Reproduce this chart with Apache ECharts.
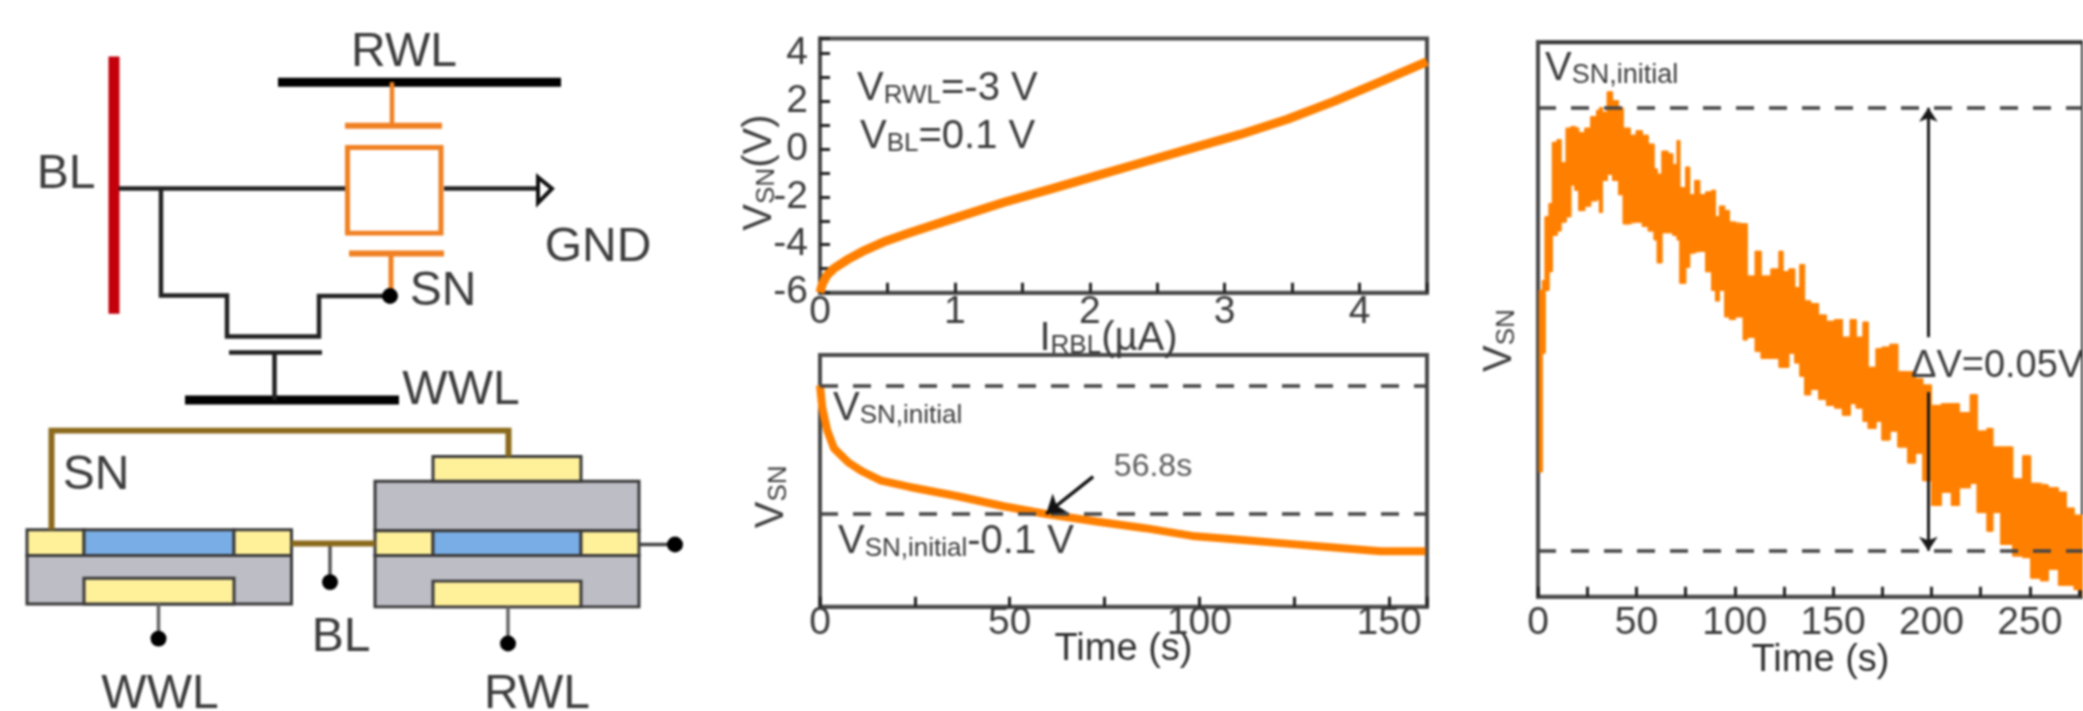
<!DOCTYPE html>
<html>
<head>
<meta charset="utf-8">
<style>
html,body{margin:0;padding:0;background:#fff;overflow:hidden}
#chart{width:2083px;height:711px;filter:blur(1px)}
</style>
<script src="https://cdn.jsdelivr.net/npm/echarts@6/dist/echarts.min.js"></script>
</head>
<body>
<div id="chart"></div>
<script>
// --- panel (b, top): V_SN against I_RBL
const currentUA = [0,0.017,0.052,0.105,0.21,0.315,0.49,0.665,1.015,1.365,1.715,2.065,2.415,2.765,3.115,3.465,3.815,4.165,4.5];
const vsnVolts  = [-6,-5.64,-5.27,-4.98,-4.6,-4.28,-3.84,-3.5,-2.86,-2.23,-1.67,-1.1,-0.53,0.04,0.6,1.23,1.99,2.82,3.64];

// --- panel (b, bottom): retention over 160 s (volts relative to V_SN,initial)
const retentionTime = [0,0.6,1.9,3.7,7.5,11.2,16.1,23.6,36,48.4,59.6,73.3,85.7,98.1,110.6,123,135.4,147.8,159.6];
const retentionV = [0,-0.0175,-0.035,-0.049,-0.06,-0.067,-0.074,-0.079,-0.086,-0.094,-0.1,-0.106,-0.111,-0.117,-0.12,-0.123,-0.126,-0.129,-0.129];
const retentionInitial = 0;
const retentionDrop = -0.1;
const retentionArrow = [[72,-0.0709],[59.6,-0.1]];

// --- panel (c): noisy decay over 280 s, envelope in mV above the axis floor
const decayTime = [0.6,2.2,3.6,5.6,7.3,9.7,11.7,14.3,16.7,18.7,20.7,23.8,26.8,29.8,31.2,32.8,35.2,37.9,40.9,43.3,46.9,49.9,53,56,59,60.6,63,66.1,68.5,70.7,72.1,75.1,77.1,79.6,82.2,85.2,88.2,90.2,92.2,94.9,97.3,100.3,104.3,106.3,110.4,113.4,118.4,122.5,124.5,127.5,130.5,133.1,135.5,138.6,142.6,146.6,150.7,154.7,158.7,161.7,165.2,167.8,171.8,174.8,178.9,182.9,187.9,191.9,195.6,200,205,210.1,214.1,219.7,223.2,228.2,231.2,235.2,241.3,246.3,250.4,255.4,259.4,264.5,268.5,272.5,277];
const decayUpper = [34.6,35.7,42.9,44.4,51.3,51.6,49,52.9,53.1,52.9,52.4,52.9,54.2,54.9,55.2,54.7,57,56,55.2,52.9,52.1,52.6,52.1,51.1,48.3,47.7,50.3,50,48.8,51.5,46.2,48.5,45.4,47,45.4,45.7,45.9,42.9,44.1,43.6,42.3,42.1,42.1,36.2,39,36.2,37,39,36.7,37,34.9,37.5,33.4,33.1,31.8,31.1,31.3,29.3,31.3,29.3,31,25.9,28,28.2,28.5,25.4,25.4,24.6,23.9,21.6,21.8,21.8,20.8,22.8,18.7,19,16.9,16.9,13.3,15.9,12.8,12.6,12.3,11.8,10,9.2,8.5];
const decayLower = [14.1,27.5,34.6,36.7,40.8,41.3,42.3,42.9,46.5,45.9,43.6,44.1,44.7,44.9,43.4,47,47.7,47,45.4,42.1,42.3,42.3,41.8,41.3,40.3,37.7,41.1,41.1,40.8,40.3,35.4,37.2,38.8,39,39,36.7,34.6,33.4,34.6,31.6,31.3,31.6,29,29.3,27.7,26.9,26.9,25.9,25.9,27.5,26.4,24.9,22.8,23.4,22.3,21.6,21.3,20.5,21.8,21.3,19.8,19,19.8,17.7,18.7,16.9,15.1,16.2,13.1,10.3,11.8,10.3,12.3,12.8,9.5,7.4,9.5,5.9,4.6,4.4,2.1,1.8,3.1,1.3,1.3,0.8,0];
const decayInitial = 55.2;
const decayFinal = 5.2;
const deltaArrowX = 198.4;
const deltaArrowTop = [29.3,55.2];
const deltaArrowBottom = [23.1,5.2];

// --- labels
const FONT = '"Liberation Sans", Arial, sans-serif';
const INK = '#3c3c3c';
const ORANGE = '#ff8000';
const schematicLabels = [
  ['RWL',404,53],['BL',66,177],['GND',598,250],['SN',443,295],['WWL',461,395],
  ['SN',96,481],['BL',341,644],['WWL',160,702],['RWL',537,702]
];

// --- schematic drawing (not data): [x1,y1,x2,y2,width,colour]
const WIRE = '#222222', GATE = '#f08022', BRASS = '#8b6a1c';
const schematicLines = [
  [114,57,114,317,11,'#c4000c'],[278,83,561,83,9,'#000'],[185,404,399,404,9,'#000'],
  [119,190.5,347,190.5,4.5,WIRE],[444,190.5,539,190.5,4.5,WIRE],
  [229,356,322,356,4.5,WIRE],[274.5,356,274.5,404,4.5,WIRE],
  [392,83,392,127,4.5,GATE],[345,127,442,127,6,GATE],[349,256,444,256,6,GATE],[391,256,391,299,5,GATE],
  [330,549,330,588,3.5,'#555'],[158.5,610,158.5,645,3.5,'#666'],[508,613,508,650,3.5,'#666'],[639,550,675,550,3.5,'#444'],
  [291.5,549,375,549,6,BRASS]
];
const schematicPaths = [
  [[[161,190.5],[161,298.5],[227,298.5],[227,340],[319,340],[319,299],[390,299]],4.5,WIRE],
  [[[51.5,535],[51.5,435],[508.5,435],[508.5,461]],6,BRASS]
];
// [x,y,w,h,fill]
const YEL = '#fff09a', BLUE = '#78ade5', GREY = '#bcbdc5';
const schematicRects = [
  [27,561,264.5,49,GREY],[84,584,150,26,YEL],[27,535,57,26,YEL],[84,535,150,26,BLUE],[234,535,57.5,26,YEL],
  [375,486,264,50,GREY],[433,461,148,25,YEL],[375,561,264,52,GREY],[433,587,148,26,YEL],
  [375,536,58,25,YEL],[433,536,148,25,BLUE],[581,536,58,25,YEL]
];
const schematicDots = [[390,299],[158.5,645],[508,650],[330,588],[675,550]];

const schematic = [];
schematicRects.forEach(r => schematic.push({type:'rect',shape:{x:r[0],y:r[1],width:r[2],height:r[3]},style:{fill:r[4],stroke:'#3a3a3a',lineWidth:3}}));
schematicLines.forEach(l => schematic.push({type:'line',shape:{x1:l[0],y1:l[1],x2:l[2],y2:l[3]},style:{stroke:l[5],lineWidth:l[4]}}));
schematicPaths.forEach(p => schematic.push({type:'polyline',shape:{points:p[0]},style:{stroke:p[2],lineWidth:p[1],fill:null}}));
schematic.push({type:'rect',shape:{x:347.5,y:149,width:93.5,height:86.5},style:{fill:'#fff',stroke:GATE,lineWidth:5}});
schematic.push({type:'polygon',shape:{points:[[538,179],[552,190.5],[538,205]]},style:{fill:'#fff',stroke:'#111',lineWidth:4}});
schematicDots.forEach(d => schematic.push({type:'circle',shape:{cx:d[0],cy:d[1],r:8},style:{fill:'#000'}}));
schematicLabels.forEach(t => schematic.push({type:'text',style:{text:t[0],x:t[1],y:t[2],font:'48px '+FONT,fill:INK,align:'center',verticalAlign:'middle'}}));

const graphics = [{type:'group',x:0,y:0,scaleY:0.99,children:schematic}];

// rich subscript text
function rich(vSize, subSize, drop) {
  return {
    v:{fontSize:vSize,lineHeight:vSize,fill:INK,fontFamily:FONT,verticalAlign:'top'},
    s:{fontSize:subSize,lineHeight:subSize,fill:INK,fontFamily:FONT,verticalAlign:'bottom',padding:[drop,0,0,0]}
  };
}
function note(text, x, y, vSize, subSize, drop) {
  graphics.push({type:'text',z:50,style:{text,x,y,rich:rich(vSize,subSize,drop),align:'left',verticalAlign:'middle',font:vSize+'px '+FONT,fill:INK}});
}
note('{v|V}{s|RWL}{v|=-3 V}',857,89,40,26,24);
note('{v|V}{s|BL}{v|=0.1 V}',860,136.5,40,26,24);
note('{v|V}{s|SN,initial}',833,408.5,40,26,24);
note('{v|V}{s|SN,initial}{v|-0.1 V}',838,542,40,26,24);
note('{v|V}{s|SN,initial}',1545,69,40,27,22);
graphics.push({type:'text',z:50,style:{text:'56.8s',x:1153,y:467,font:'32px '+FONT,fill:'#5a5a5a',align:'center',verticalAlign:'middle'}});
graphics.push({type:'text',z:50,style:{text:'ΔV=0.05V',x:1911,y:367,font:'38px '+FONT,fill:INK,align:'left',verticalAlign:'middle'}});

const dash = (y) => ({yAxis:y,symbol:'none',lineStyle:{color:'#444',width:3.5,type:[18,15]}});
const arrow = (a, b) => [{coord:a,symbol:'none',lineStyle:{color:'#1a1a1a',width:3,type:'solid'}},{coord:b,symbol:'arrow',symbolSize:14}];

const TICK = {color:'#222',width:3};
const AXIS_EDGE = {show:true,onZero:false,lineStyle:{color:'#4a4a4a',width:4}};
function frame(i, xMax, xInterval, xName, yMin, yMax, yInterval, yName, showY, gaps) {
  const y = {gridIndex:i,type:'value',position:'left',min:yMin,max:yMax,
      axisLine:AXIS_EDGE,splitLine:{show:false},
      axisTick:{show:showY,inside:true,length:10,lineStyle:TICK},
      minorTick:{show:showY,splitNumber:2,length:10,lineStyle:TICK},
      axisLabel:{show:showY,fontFamily:FONT,fontSize:39,color:INK,margin:12,showMaxLabel:false},
      name:yName,nameLocation:'middle',nameGap:gaps.yn,nameRotate:90,nameMoveOverlap:false,
      nameTextStyle:{padding:gaps.yp,rich:nameRich}};
  if (yInterval) y.interval = yInterval;
  return {
    x:{gridIndex:i,type:'value',position:'bottom',min:0,max:xMax,interval:xInterval,
      axisLine:AXIS_EDGE,splitLine:{show:false},
      axisTick:{show:true,inside:true,length:10,lineStyle:TICK},
      minorTick:{show:true,splitNumber:2,length:10,lineStyle:TICK},
      axisLabel:{fontFamily:FONT,fontSize:39,color:INK,margin:gaps.xm,showMaxLabel:false,hideOverlap:false},
      name:xName,nameLocation:'middle',nameGap:gaps.xn,nameMoveOverlap:false,
      nameTextStyle:{padding:gaps.xp,rich:nameRich}},
    y
  };
}
const nameRich = {v:{fontSize:40,lineHeight:40,color:INK,fontFamily:FONT,verticalAlign:'top'},
                  t:{fontSize:38,lineHeight:38,color:'#2e2e2e',fontFamily:FONT},
                  s:{fontSize:26,lineHeight:26,color:INK,fontFamily:FONT,verticalAlign:'bottom',padding:[22,0,0,0]}};

const f0 = frame(0,4.5,1,'{v|I}{s|RBL}{v|(µA)}',-6,4.6,2,'{v|V}{s|SN}{v|(V)}',true,{xm:0,xn:26,xp:[0,30,0,0],yn:40,yp:[0,14,0,0]});
const f1 = frame(1,160,50,'{t|Time (s)}',-0.172,0.0235,0,'{v|V}{s|SN}',false,{xm:-3,xn:24,xp:0,yn:28,yp:[0,32,0,0]});
const f2 = frame(2,277,50,'{t|Time (s)}',0,62.6,0,'{v|V}{s|SN}',false,{xm:7,xn:45,xp:[0,0,0,20],yn:18,yp:[0,42,0,0]});

const option = {
  animation:false,
  backgroundColor:'#fff',
  graphic:{elements:graphics},
  grid:[
    {left:820,top:38.5,width:607,height:254.2,show:true,borderColor:'#4a4a4a',borderWidth:4,backgroundColor:'transparent'},
    {left:820,top:355,width:607,height:251.7,show:true,borderColor:'#4a4a4a',borderWidth:4,backgroundColor:'transparent'},
    {left:1538,top:42.3,width:546,height:554.4,show:true,borderColor:'#333',borderWidth:4,backgroundColor:'transparent'}
  ],
  xAxis:[f0.x,f1.x,f2.x],
  yAxis:[f0.y,f1.y,f2.y],
  series:[
    {type:'line',xAxisIndex:0,yAxisIndex:0,symbol:'none',clip:false,
      data:currentUA.map((x,i)=>[x,vsnVolts[i]]),lineStyle:{color:ORANGE,width:9}},
    {type:'line',xAxisIndex:1,yAxisIndex:1,symbol:'none',
      data:retentionTime.map((x,i)=>[x,retentionV[i]]),lineStyle:{color:ORANGE,width:8},
      markLine:{silent:true,symbol:'none',label:{show:false},animation:false,
        data:[dash(retentionInitial),dash(retentionDrop),
          [{coord:retentionArrow[0],symbol:'none',lineStyle:{color:'#111',width:3.5,type:'solid'}},{coord:retentionArrow[1],symbol:'arrow',symbolSize:18}]]}},
    {type:'custom',xAxisIndex:2,yAxisIndex:2,z:2,silent:true,
      data:decayTime.map((t,i)=>[t,decayLower[i],decayUpper[i]]),
      encode:{x:0,y:[1,2]},
      renderItem:function(params,api){
        if(params.dataIndex!==0) return null;
        // stepped outline: the trace is noisy, so its edge is made of vertical spikes
        const pts=[];
        decayTime.forEach((t,i)=>{
          pts.push(api.coord([t,decayUpper[i]]));
          if(i+1<decayTime.length) pts.push(api.coord([decayTime[i+1],decayUpper[i]]));
        });
        for(let i=decayTime.length-1;i>=0;i--){
          pts.push(api.coord([decayTime[i],decayLower[i]]));
          if(i>0) pts.push(api.coord([decayTime[i],decayLower[i-1]]));
        }
        return {type:'polygon',shape:{points:pts},style:{fill:ORANGE,stroke:ORANGE,lineWidth:1}};
      }},
    {type:'line',xAxisIndex:2,yAxisIndex:2,symbol:'none',z:3,step:'end',
      data:decayTime.map((x,i)=>[x,decayLower[i]]),lineStyle:{color:ORANGE,width:1}},
    {type:'line',xAxisIndex:2,yAxisIndex:2,symbol:'none',z:3,step:'end',
      data:decayTime.map((x,i)=>[x,decayUpper[i]]),lineStyle:{color:ORANGE,width:1},
      markLine:{silent:true,symbol:'none',label:{show:false},animation:false,
        data:[dash(decayInitial),dash(decayFinal),
          arrow([deltaArrowX,deltaArrowTop[0]],[deltaArrowX,deltaArrowTop[1]]),
          arrow([deltaArrowX,deltaArrowBottom[0]],[deltaArrowX,deltaArrowBottom[1]])]}}
  ]
};
const chart = echarts.init(document.getElementById('chart'),null,{renderer:'canvas'});
chart.setOption(option);
</script>
</body>
</html>
